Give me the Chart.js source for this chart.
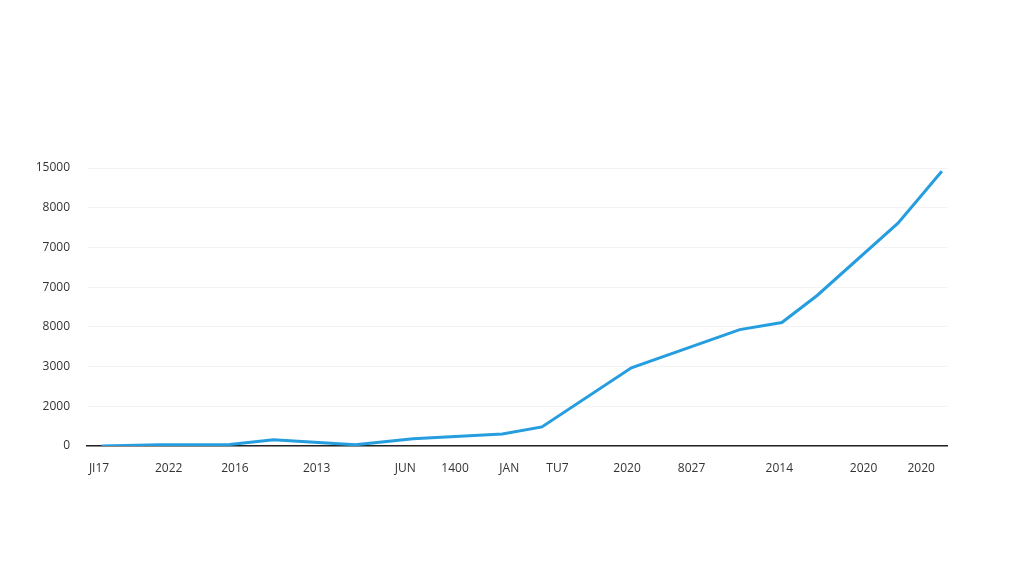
<!DOCTYPE html>
<html>
<head>
<meta charset="utf-8">
<script src="https://cdn.jsdelivr.net/npm/chart.js@4"></script>
<style>
  html, body { margin: 0; padding: 0; background: #fff; }
  #wrap { width: 1024px; height: 585px; }
</style>
</head>
<body>
<div id="wrap"><canvas id="lineChart"></canvas></div>
<script>
// x labels and where they sit on the 0-100 x scale
const xLabels = ['JI17', '2022', '2016', '2013', 'JUN', '1400', 'JAN', 'TU7', '2020', '8027', '2014', '2020', '2020'];
const xTickPos = [1.4, 9.5, 17.2, 26.7, 37.0, 42.8, 49.1, 54.7, 62.8, 70.3, 80.5, 90.3, 97.0];

// y tick labels as printed (one per grid step of 1000)
const yLabels = ['0', '2000', '3000', '8000', '7000', '7000', '8000', '15000'];

// series
const pointX = [1.7, 8.5, 16.6, 21.7, 31.2, 37.9, 48.3, 52.9, 63.3, 75.9, 80.8, 84.9, 94.3, 99.4];
const pointY = [0, 30, 40, 160, 30, 180, 300, 480, 1970, 2930, 3110, 3790, 5610, 6920];

document.addEventListener('DOMContentLoaded', () => {

    const ctx = document.getElementById('lineChart').getContext('2d');

    const points = pointX.map((x, i) => ({ x: x, y: pointY[i] }));

    new Chart(ctx, {
        type: 'line',
        data: {
            datasets: [{
                data: points,
                borderColor: '#259ddf',
                borderWidth: 3,
                pointRadius: 0,
                tension: 0,
                fill: false
            }]
        },
        options: {
            responsive: true,
            maintainAspectRatio: false,
            animation: false,
            layout: {
                padding: { top: 168, right: 77, bottom: 99, left: 0 }
            },
            plugins: {
                legend: { display: false },
                tooltip: { enabled: false }
            },
            scales: {
                x: {
                    type: 'linear',
                    min: 0,
                    max: 100,
                    afterBuildTicks: scale => {
                        scale.ticks = xTickPos.map(v => ({ value: v }));
                    },
                    afterFit: scale => { scale.height = 40; },
                    grid: { display: false },
                    border: { display: true, color: '#222', width: 1.5 },
                    ticks: {
                        autoSkip: false,
                        maxRotation: 0,
                        padding: 7,
                        color: '#333',
                        font: { family: 'Open Sans', size: 12 },
                        callback: (val, idx) => xLabels[idx]
                    }
                },
                y: {
                    min: 0,
                    max: 7000,
                    afterFit: scale => { scale.width = 87; },
                    grid: { color: '#f3f3f3', drawTicks: false },
                    border: { display: false },
                    ticks: {
                        stepSize: 1000,
                        padding: 17,
                        color: '#333',
                        font: { family: 'Open Sans', size: 12 },
                        callback: (val, idx) => yLabels[idx]
                    }
                }
            }
        }
    });
});
</script>
</body>
</html>
